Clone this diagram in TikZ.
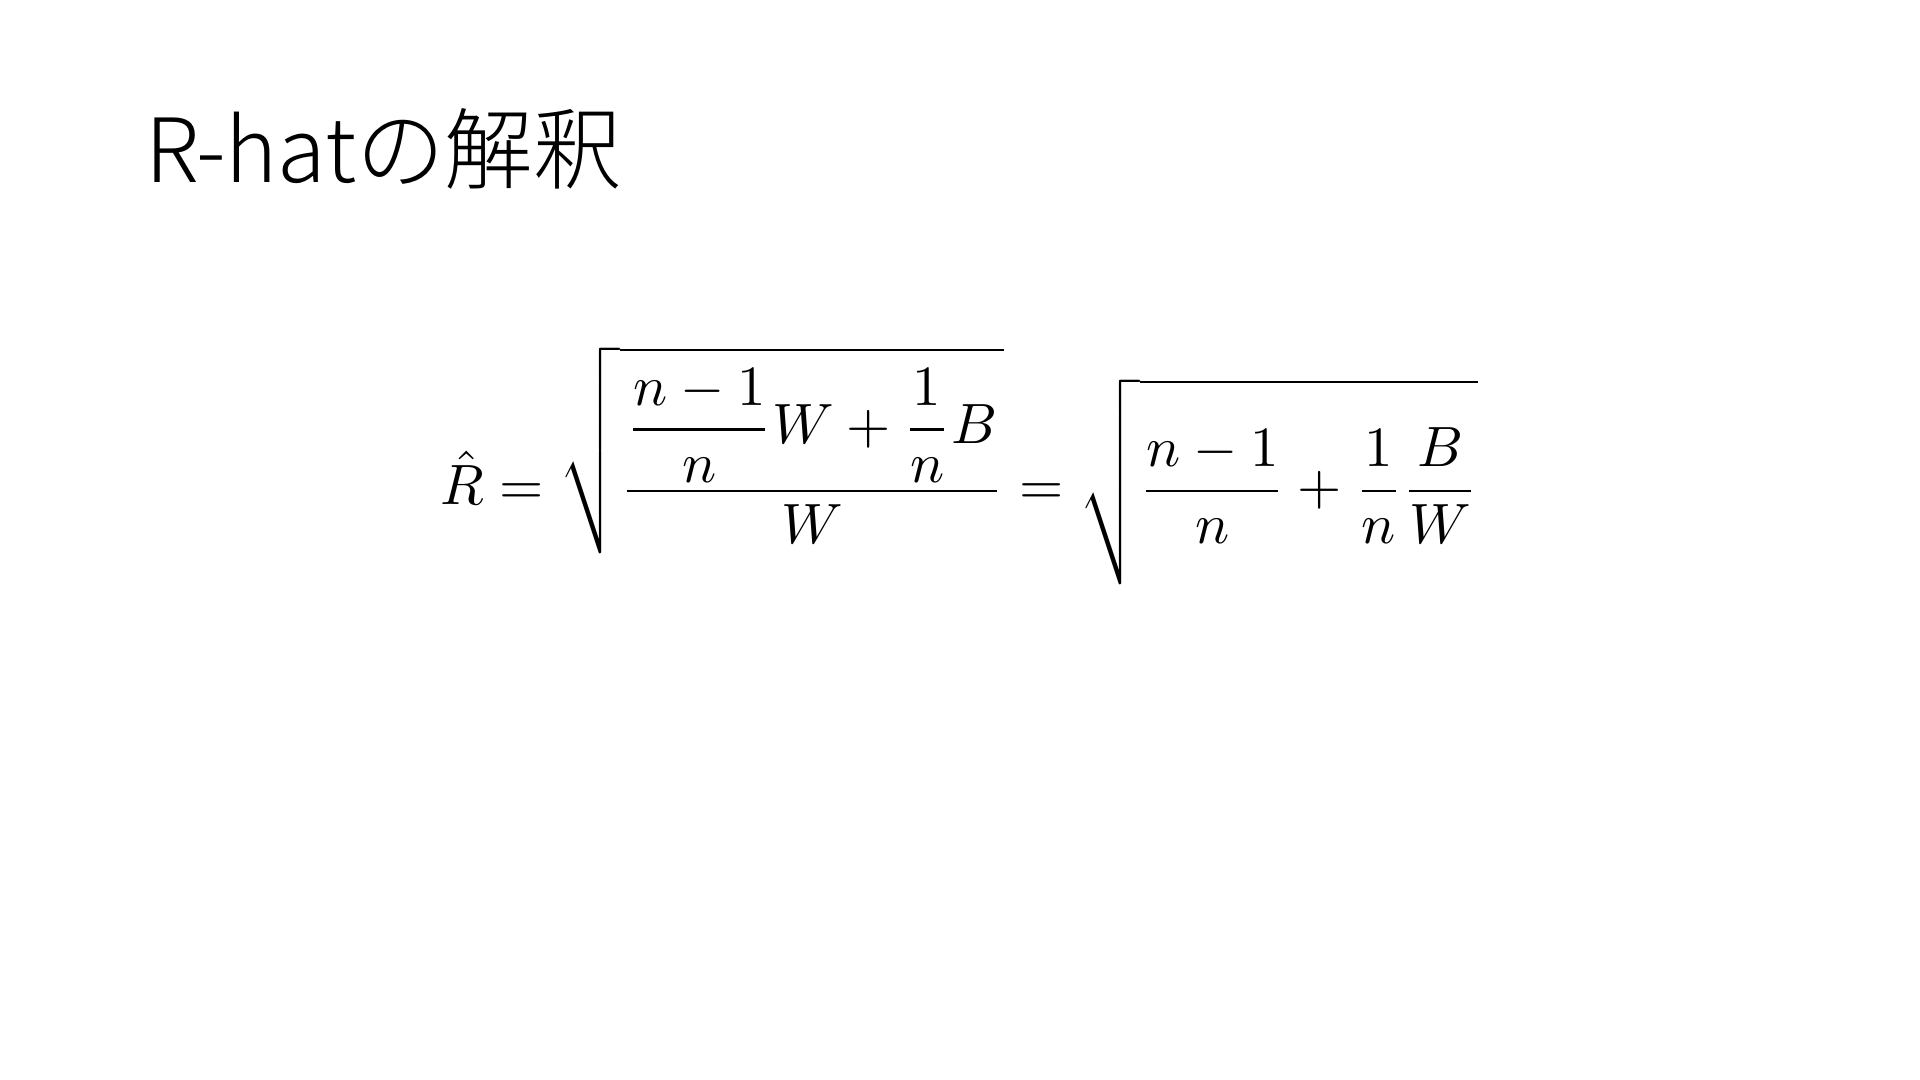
\documentclass[tikz,border=0pt]{standalone}
\usepackage{amsmath}
\usepackage{graphicx}
\usepackage{fontspec}
\newfontfamily\jpfont{Noto Sans CJK JP Light}
\begin{document}
\begin{tikzpicture}[x=1pt,y=1pt,
  titletext/.style={inner sep=0pt, anchor=base west, font=\jpfont\fontsize{44.3}{52}\selectfont},
  formula/.style={inner sep=0pt, anchor=base west}]
\useasboundingbox[fill=white] (0,0) rectangle (960,540);
\node[titletext] (title) at (72.5,448.5) {R-hatの解釈};
\node[formula] (eq) at (220,287.5) {\resizebox{518.5pt}{!}{$\displaystyle
  \hat{R} = \sqrt{\dfrac{\dfrac{n-1}{n}W+\dfrac{1}{n}B}{W}}
  = \sqrt{\rule[-12.8pt]{0pt}{31.5pt}\dfrac{n-1}{n}+\dfrac{1}{n}\dfrac{B}{W}}$}};
\end{tikzpicture}
\end{document}
